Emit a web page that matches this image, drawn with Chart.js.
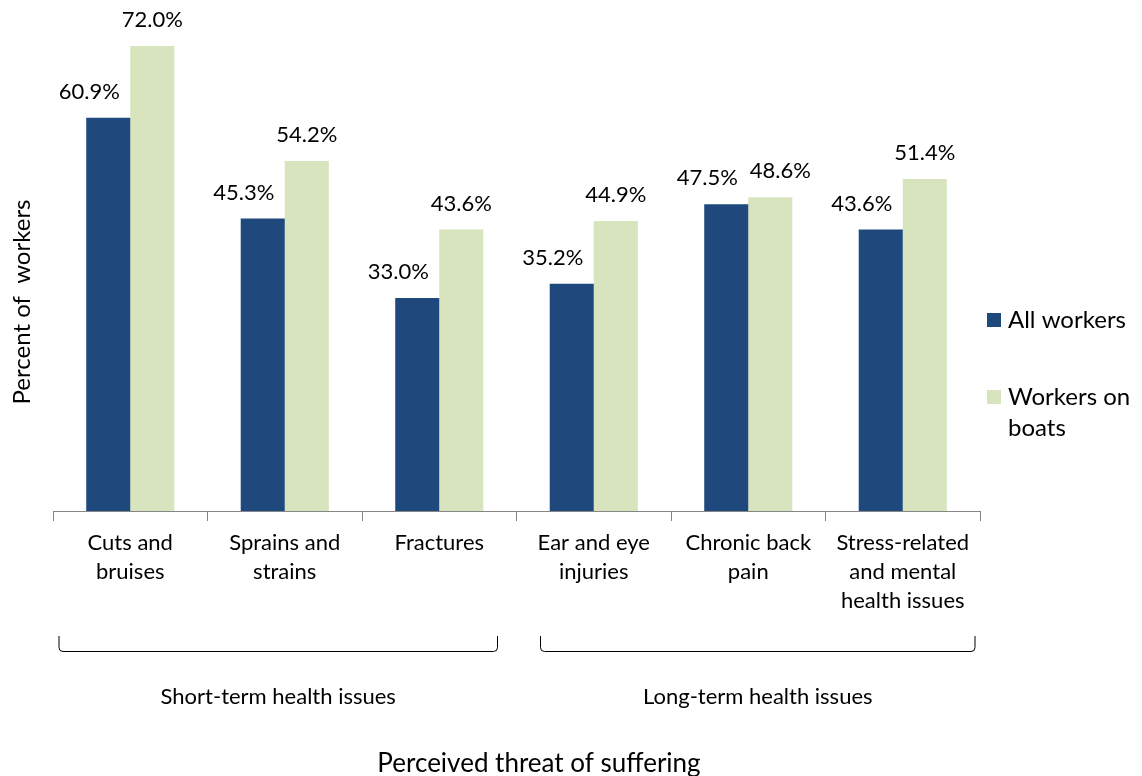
<!DOCTYPE html>
<html>
    <head>
        <title>Perceived threat of suffering</title>
        <script src="https://cdn.jsdelivr.net/npm/chart.js@4.4.1/dist/chart.umd.min.js"></script>
        <style>
            body { margin: 0; background: #fff; }
            #wrap { width: 1142px; height: 776px; }
        </style>
    </head>
    <body>
        <div id="wrap">
            <canvas id="chartCanvas" width="1142" height="776"></canvas>
        </div>
        <script type="text/javascript">
            // categories, split into lines like the original
            const categories = [
                ['Cuts and', 'bruises'],
                ['Sprains and', 'strains'],
                ['Fractures'],
                ['Ear and eye', 'injuries'],
                ['Chronic back', 'pain'],
                ['Stress-related', 'and mental', 'health issues']
            ];
            const allWorkers = [60.9, 45.3, 33.0, 35.2, 47.5, 43.6];
            const boatWorkers = [72.0, 54.2, 43.6, 44.9, 48.6, 51.4];
            const seriesNames = [['All workers'], ['Workers on', 'boats']];
            // bracket groups under the axis: label, first and last category index
            const groupLabels = ['Short-term health issues', 'Long-term health issues'];
            const groupFrom = [0, 3];
            const groupTo = [2, 5];

            const FONT = 'Lato, "Open Sans", sans-serif';
            const BLUE = '#1f497d';
            const GREEN = '#d7e4bd';

            // value labels above bars, blue ones pushed left like the original
            const barLabels = {
                id: 'barLabels',
                afterDatasetsDraw(chart) {
                    const ctx = chart.ctx;
                    ctx.save();
                    ctx.font = '22px ' + FONT;
                    ctx.fillStyle = '#000';
                    ctx.textAlign = 'center';
                    ctx.textBaseline = 'middle';
                    const m0 = chart.getDatasetMeta(0).data;
                    const m1 = chart.getDatasetMeta(1).data;
                    for (let i = 0; i < m0.length; i++) {
                        const t0 = allWorkers[i].toFixed(1) + '%';
                        const t1 = boatWorkers[i].toFixed(1) + '%';
                        const w0 = ctx.measureText(t0).width;
                        const w1 = ctx.measureText(t1).width;
                        const x0 = m0[i].x - 19, y0 = m0[i].y - 26;
                        let x1 = m1[i].x;
                        const y1 = m1[i].y - 26;
                        // push right when the two labels collide
                        if (Math.abs(y0 - y1) < 24) {
                            const minX = x0 + w0 / 2 + w1 / 2 + 12;
                            if (x1 < minX) x1 = minX;
                        }
                        ctx.fillText(t0, x0, y0);
                        ctx.fillText(t1, x1, y1);
                    }
                    ctx.restore();
                }
            };

            // y title, brackets, group names, x title, legend
            const extras = {
                id: 'extras',
                afterDraw(chart) {
                    const ctx = chart.ctx;
                    const area = chart.chartArea;
                    const xs = chart.scales.x;
                    const step = (area.right - area.left) / categories.length;
                    // bracket insets from the category edges [left, right]
                    const pads = [[6, 19], [24, 5]];
                    ctx.save();
                    ctx.fillStyle = '#000';
                    ctx.textAlign = 'center';
                    ctx.textBaseline = 'middle';

                    // y axis title
                    ctx.save();
                    ctx.translate(22, 302);
                    ctx.rotate(-Math.PI / 2);
                    ctx.font = '24px ' + FONT;
                    ctx.fillText('Percent of  workers', 0, 0);
                    ctx.restore();

                    // brackets
                    ctx.strokeStyle = '#000';
                    ctx.lineWidth = 1;
                    for (let g = 0; g < groupLabels.length; g++) {
                        const left = xs.getPixelForValue(groupFrom[g]) - step / 2 + pads[g][0];
                        const right = xs.getPixelForValue(groupTo[g]) + step / 2 - pads[g][1];
                        const top = 636, bot = 651.5, r = 4;
                        ctx.beginPath();
                        ctx.moveTo(left, top);
                        ctx.lineTo(left, bot - r);
                        ctx.quadraticCurveTo(left, bot, left + r, bot);
                        ctx.lineTo(right - r, bot);
                        ctx.quadraticCurveTo(right, bot, right, bot - r);
                        ctx.lineTo(right, top);
                        ctx.stroke();
                        ctx.font = '22px ' + FONT;
                        ctx.fillText(groupLabels[g], (left + right) / 2, 697);
                    }

                    // x axis title
                    ctx.font = '26px ' + FONT;
                    ctx.fillText('Perceived threat of suffering', 539, 764);

                    // legend
                    const colors = [BLUE, GREEN];
                    const legendY = [320, 397];
                    ctx.textAlign = 'left';
                    ctx.font = '24px ' + FONT;
                    for (let s = 0; s < seriesNames.length; s++) {
                        ctx.fillStyle = colors[s];
                        ctx.fillRect(987, legendY[s] - 7, 14, 14);
                        ctx.fillStyle = '#000';
                        seriesNames[s].forEach((line, k) => {
                            ctx.fillText(line, 1008, legendY[s] + k * 31);
                        });
                    }
                    ctx.restore();
                }
            };

            const data = {
                labels: categories,
                datasets: [
                    { label: 'All workers', data: allWorkers, backgroundColor: BLUE },
                    { label: 'Workers on boats', data: boatWorkers, backgroundColor: GREEN }
                ]
            };

            const config = {
                type: 'bar',
                data: data,
                options: {
                    responsive: false,
                    animation: false,
                    layout: { padding: { left: 53, right: 162, top: 46, bottom: 0 } },
                    datasets: { bar: { categoryPercentage: 0.57, barPercentage: 1.0 } },
                    plugins: {
                        legend: { display: false },
                        tooltip: { enabled: false }
                    },
                    scales: {
                        x: {
                            grid: {
                                offset: true,
                                drawOnChartArea: false,
                                tickLength: 10,
                                color: '#868686'
                            },
                            border: { display: true, color: '#868686', width: 1 },
                            ticks: {
                                color: '#000',
                                padding: 7,
                                maxRotation: 0,
                                autoSkip: false,
                                font: { family: FONT, size: 22, lineHeight: 1.32 }
                            },
                            afterFit(scale) { scale.height = 265; }
                        },
                        y: {
                            display: false,
                            min: 0,
                            max: 72
                        }
                    }
                },
                plugins: [barLabels, extras]
            };

            new Chart(document.getElementById('chartCanvas').getContext('2d'), config);
        </script>
    </body>
</html>
